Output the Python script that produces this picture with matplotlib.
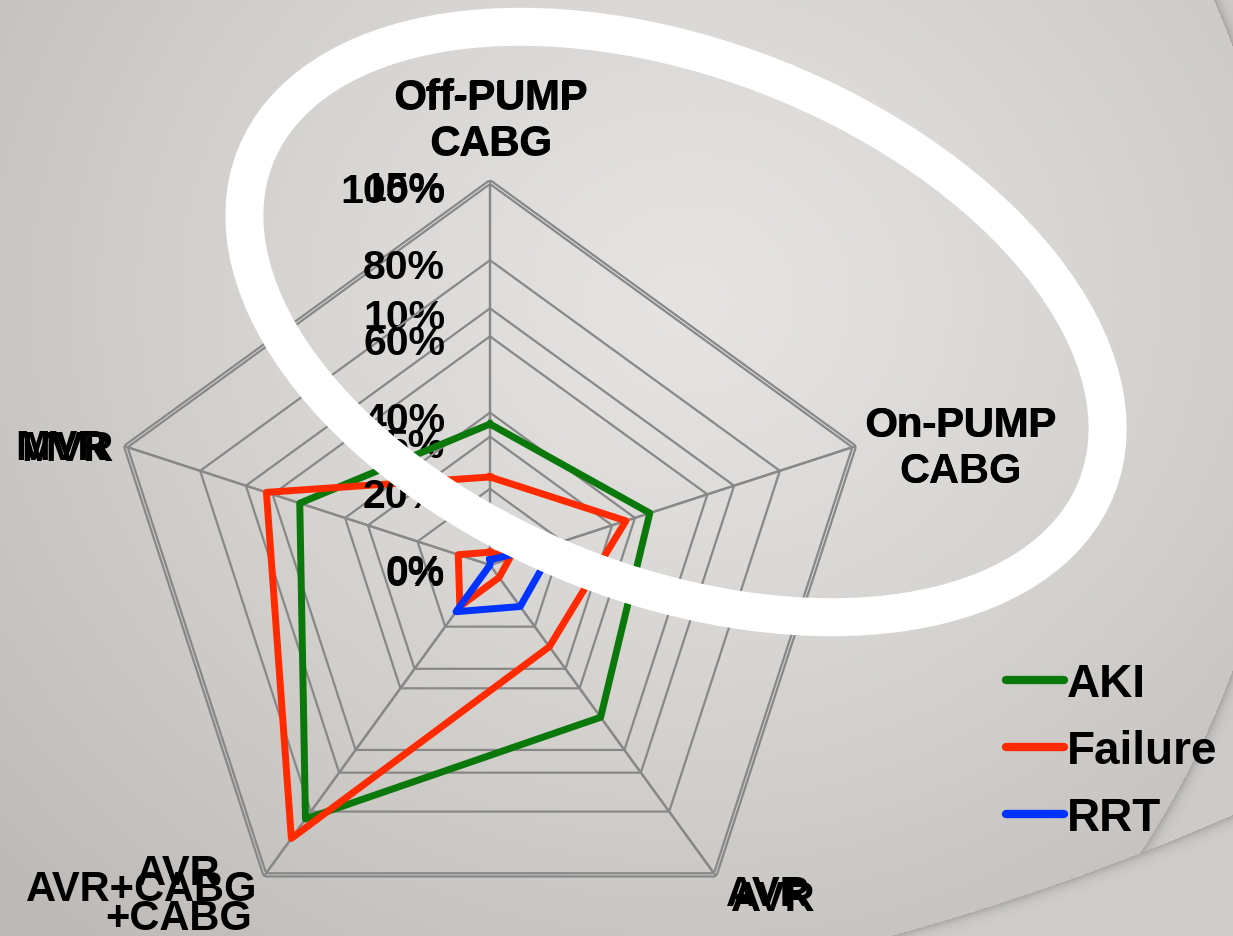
import numpy as np
import matplotlib
matplotlib.use("Agg")
import matplotlib.pyplot as plt
from matplotlib.patches import Ellipse
from matplotlib.lines import Line2D
import matplotlib.transforms as mtransforms

# ---------------- data ----------------
categories = ["Off-PUMP\nCABG", "On-PUMP\nCABG", "AVR", "AVR+CABG", "MVR"]
categories_2 = ["Off-PUMP\nCABG", "On-PUMP\nCABG", "AVR", "AVR\n+CABG", "MVR"]

# chart 1 : 0 - 100 %
aki = [37.0, 44.1, 49.4, 82.4, 52.5]
failure = [23.1, 37.5, 26.5, 88.7, 61.7]
ticks_1 = [0, 20, 40, 60, 80, 100]

# chart 2 : 0 - 15 %
failure_2 = [0.5, 0.8, 0.6, 2.0, 1.3]
rrt = [0.2, 2.7, 2.0, 2.25, 0.0]
ticks_2 = [0, 5, 10, 15]

series_names = ["AKI", "Failure", "RRT"]
series_colors = ["#0a780a", "#ff2a00", "#0033ff"]

# ---------------- figure ----------------
W, H, DPI = 1233, 937, 100
fig = plt.figure(figsize=(W / DPI, H / DPI), dpi=DPI)
FONT = "Liberation Sans"
GRID = "#888888"

# background gradient with two large template arcs at the right
bg = fig.add_axes([0, 0, 1, 1], zorder=0)
yy, xx = np.mgrid[0:H, 0:W].astype(float)
d = np.hypot(xx - 690, (yy - 300) * 1.1)
f = np.clip(d / 950, 0, 1) ** 1.2
light = np.array([230, 228, 226], float)
dark = np.array([188, 185, 182], float)
img = light * (1 - f[..., None]) + dark * f[..., None]
for (cx, rr, col) in [((388, 359), 900, (206, 204, 202)),
                      ((227, -1481), 2507, (208, 206, 204))]:
    dd = np.hypot(xx - cx[0], yy - cx[1]) - rr
    out = dd > 0
    shade = np.clip(dd, 0, None)
    base = np.array(col, float)[None, None, :] - 40 * np.exp(-shade / 5)[..., None]
    img = np.where(out[..., None], base, img)
bg.imshow(img.astype(np.uint8), extent=[0, W, H, 0], aspect="auto")
bg.set_xlim(0, W)
bg.set_ylim(H, 0)
bg.axis("off")


def make_polar(cx, cy, R, z, rmax):
    rect = [(cx - R) / W, (H - cy - R) / H, 2 * R / W, 2 * R / H]
    ax = fig.add_axes(rect, projection="polar", zorder=z)
    ax.set_theta_offset(np.pi / 2)
    ax.set_theta_direction(-1)
    ax.set_facecolor("none")
    ax.spines["polar"].set_visible(False)
    ax.set_xticks([])
    ax.set_yticks([])
    ax.grid(False)
    ax.set_ylim(0, rmax)
    return ax


n = len(categories)
ang = np.arange(n) * 2 * np.pi / n
ang_c = np.append(ang, ang[0])


def close(v):
    return np.append(v, v[0])


def draw_grid(ax, ticks):
    for v in ticks[1:]:
        ax.plot(ang_c, [v] * (n + 1), color=GRID, lw=1.6, zorder=1)
    for a in ang:
        ax.plot([a, a], [0, ticks[-1]], color=GRID, lw=1.6, zorder=1)


def off(ax, dx, dy):
    return mtransforms.offset_copy(ax.transData, fig=fig, x=dx, y=dy, units="dots")


def draw_labels(ax, ticks, cats, rmax, tick_dy, specs):
    for v in ticks:
        ax.text(0, v, f"{v}%", transform=off(ax, -45, tick_dy), ha="right", va="center",
                fontsize=29.5, fontweight="bold", family=FONT, zorder=5)
    for a, c, s in zip(ang, cats, specs):
        ax.text(a, rmax, c, transform=off(ax, s[0], s[1]), ha=s[2], va="center",
                multialignment="center", linespacing=1.18,
                fontsize=30, fontweight="bold", family=FONT, zorder=5)


CX, CY = 490, 566
specs_1 = [(0, 63, "center"), (12, -1, "left"), (12, -21, "left"),
           (-9, -16, "right"), (-14, -2, "right")]
specs_2 = [(1, 60, "center"), (9, -2, "left"), (15, -23, "left"),
           (-12, -19, "right"), (-16, -2, "right")]

# chart 2 grid (bottom)
ax2g = make_polar(CX, CY, 385, 1, 15)
draw_grid(ax2g, ticks_2)
draw_labels(ax2g, ticks_2, categories_2, 15, -9, specs_2)

# chart 1 (grid + series)
ax1 = make_polar(CX, CY, 381, 2, 100)
draw_grid(ax1, ticks_1)
draw_labels(ax1, ticks_1, categories, 100, -7, specs_1)
ax1.plot(ang_c, close(aki), color=series_colors[0], lw=5, zorder=3)
ax1.plot(ang_c, close(failure), color=series_colors[1], lw=5, zorder=3)

# chart 2 series (top)
ax2 = make_polar(CX, CY, 385, 3, 15)
ax2.plot(ang_c, close(failure_2), color=series_colors[1], lw=5, zorder=3)
ax2.plot(ang_c, close(rrt), color=series_colors[2], lw=5, zorder=3)

# white ellipse annotation
ov = fig.add_axes([0, 0, 1, 1], zorder=4)
ov.set_xlim(0, W)
ov.set_ylim(H, 0)
ov.axis("off")
ov.add_patch(Ellipse((676, 323), 904, 526, angle=21.4, fill=False,
                     edgecolor="white", lw=38 * 72 / DPI))

# legend
handles = [Line2D([], [], color=c, lw=6, solid_capstyle="round") for c in series_colors]
fig.legend(handles, series_names, loc="upper left",
           bbox_to_anchor=(1006 / W, 1 - 663 / H), frameon=False,
           prop=dict(family=FONT, weight="bold", size=33),
           handlelength=1.27, handletextpad=0.05, labelspacing=0.5,
           borderpad=0, borderaxespad=0)

fig.savefig("out.png", dpi=DPI)
